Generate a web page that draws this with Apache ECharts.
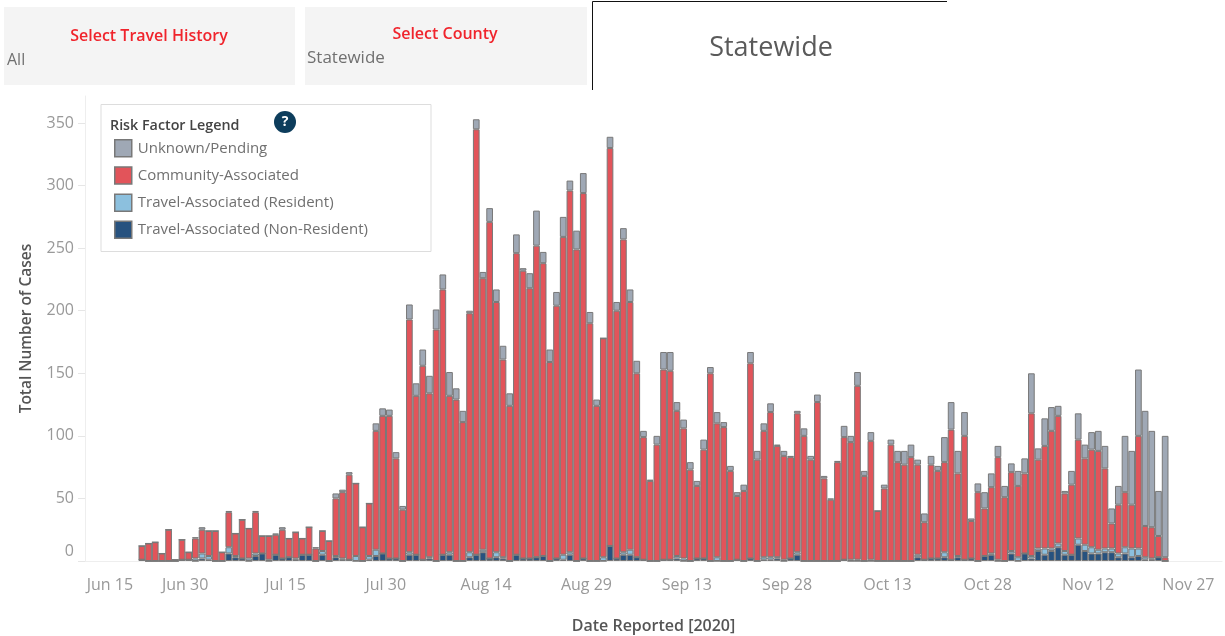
<!DOCTYPE html>
<html><head><meta charset="utf-8">
<style>html,body{margin:0;padding:0;background:#fff}#c{width:1225px;height:636px}</style>
<script src="https://cdn.jsdelivr.net/npm/echarts@6/dist/echarts.min.js"></script>
</head><body><div id="c"></div>
<script>
const leadingBlank = 8;
const nonResident = [1,0,0,0,0,0,1,1,0,2,1,0,0,6,3,2,0,4,6,0,5,2,3,1,5,5,0,5,0,3,1,1,0,0,1,4,6,2,2,
0,5,5,1,2,0,5,5,0,0,3,5,7,2,3,2,0,5,2,2,3,4,0,2,1,5,0,2,0,0,0,12,2,5,5,3,1,0,0,1,1,2,0,0,2,2,0,0,0,0,1,0,2,0,1,1,2,0,2,5,0,0,0,0,0,0,1,0,0,0,0,0,0,0,0,0,0,
3,1,2,2,3,1,3,1,2,0,4,5,0,0,6,0,6,2,8,5,8,11,5,5,13,8,6,6,7,7,3,6,3,4,1,1,3,0];
const resident = [0,0,0,0,0,0,0,0,2,4,3,0,0,5,1,0,2,2,0,1,0,0,0,1,0,0,0,3,0,1,1,0,4,0,3,5,0,0,0,
0,2,0,0,1,0,0,2,0,0,4,0,2,0,4,1,0,0,0,0,0,0,0,0,4,2,0,0,0,0,3,0,0,2,4,0,0,0,0,0,0,2,2,0,0,0,0,3,0,0,0,0,0,0,2,2,1,1,0,2,0,0,0,0,0,0,0,1,1,0,1,0,0,0,0,0,0,
2,0,0,0,4,0,1,0,0,0,0,1,1,0,2,3,0,2,2,5,2,3,3,0,5,5,5,3,3,3,3,5,7,6,2,1,0,0];
const community = [11,14,15,6,25,1,16,6,16,19,20,24,7,28,18,31,24,33,14,19,16,23,15,21,13,22,10,16,16,46,53,68,58,27,42,95,110,114,80,
41,186,127,155,131,185,212,125,129,111,191,340,217,269,200,158,124,241,230,216,249,234,159,202,254,289,249,292,190,124,175,318,198,250,198,147,98,64,93,152,151,116,104,73,58,87,150,107,107,72,51,56,156,81,101,116,89,83,81,111,100,81,127,66,49,79,98,94,139,68,95,40,58,93,79,77,83,
72,30,75,70,72,104,66,99,30,55,38,53,82,51,63,57,64,114,71,82,94,102,46,56,79,69,78,79,64,20,39,44,35,90,25,25,17,3];
const unknown = [0,0,0,0,0,0,0,0,1,2,0,0,0,1,0,0,0,1,0,0,1,2,0,0,0,0,1,0,0,4,2,2,0,0,0,6,6,5,5,
3,12,10,13,14,16,12,19,9,9,2,8,5,11,10,11,10,15,2,12,28,9,10,11,16,8,15,16,9,5,0,9,7,9,10,10,5,1,7,14,15,7,7,6,4,8,5,9,4,4,3,5,9,7,6,7,1,4,1,2,6,3,6,2,1,1,9,5,11,4,7,0,3,4,9,11,10,
4,7,7,4,20,22,18,19,2,7,13,11,9,9,7,12,12,32,9,22,19,8,2,11,21,11,14,16,18,12,15,45,43,53,92,77,36,97];
const monthNames = ['Jun','Jul','Aug','Sep','Oct','Nov','Dec'];
const monthDays = [30,31,31,30,31,30,31];
const yTicks = [0,50,100,150,200,250,300,350];
const seriesNames = ['Unknown/Pending','Community-Associated','Travel-Associated (Resident)','Travel-Associated (Non-Resident)'];

const categories = [];
for (let m = 0, d = 15; categories.length < 170; ) {
  categories.push(monthNames[m] + ' ' + d);
  d++; if (d > monthDays[m]) { d = 1; m++; }
}
const blankOut = a => categories.map((c,i)=> (i<leadingBlank || i>=leadingBlank+a.length) ? null : a[i-leadingBlank]);
const FONT = '"Open Sans", sans-serif';
const mk = (name,data,color) => ({
  name, type:'bar', stack:'t', data:blankOut(data), barWidth:'100%', animation:false,
  itemStyle:{color, borderColor:'#787878', borderWidth:1}
});
const every15 = i => i % 15 === 0;
const chart = echarts.init(document.getElementById('c'), null, {renderer:'canvas'});
chart.setOption({
  animation:false, backgroundColor:'#fff',
  grid:{left:85, top:96, width:1137, height:465, containLabel:false, outerBoundsMode:'none'},
  legend:{
    orient:'vertical', left:109, top:134, itemWidth:17, itemHeight:17, itemGap:8.7, padding:5,
    icon:'rect', selectedMode:false,
    data:seriesNames,
    itemStyle:{borderColor:'#787878', borderWidth:1.5},
    textStyle:{fontFamily:FONT, fontSize:15, color:'#707070', padding:[0,0,0,1]}
  },
  xAxis:{
    type:'category', data:categories,
    axisLine:{lineStyle:{color:'#eeeeee'}},
    axisTick:{interval:(i)=>every15(i), length:7, lineStyle:{color:'#e6e6e6'}, alignWithLabel:false},
    axisLabel:{interval:(i)=>every15(i), hideOverlap:false, margin:16, color:'#999', fontFamily:FONT, fontSize:16,
      formatter:(v,i)=> i===0 ? '{f|'+v+'}' : '{a|'+v+'}',
      rich:{a:{padding:[0,7,0,0], color:'#999', fontFamily:FONT, fontSize:16},
            f:{padding:[0,0,0,43], color:'#999', fontFamily:FONT, fontSize:16}}},
    name:'Date Reported [2020]', nameLocation:'middle', nameGap:57,
    nameTextStyle:{fontFamily:FONT, fontSize:16, fontWeight:600, color:'#555'}
  },
  yAxis:{
    type:'value', min:0, max:371.6, interval:50,
    splitLine:{show:false},
    axisLine:{show:true, lineStyle:{color:'#eeeeee'}},
    axisTick:{show:true, length:7, lineStyle:{color:'#e6e6e6'}, customValues:yTicks},
    axisLabel:{margin:11, color:'#999', fontFamily:FONT, fontSize:16, customValues:yTicks,
      formatter:v=> v===0 ? '{z|0}' : '{n|'+v+'}',
      rich:{z:{padding:[0,0,20,0], color:'#999', fontFamily:FONT, fontSize:16},
            n:{color:'#999', fontFamily:FONT, fontSize:16}}},
    name:'Total Number of Cases', nameLocation:'middle', nameGap:50, nameRotate:90,
    nameTextStyle:{fontFamily:FONT, fontSize:15.5, fontWeight:600, color:'#555'}
  },
  series:[
    mk(seriesNames[3],nonResident,'#27527f'),
    mk(seriesNames[2],resident,'#8cc0de'),
    mk(seriesNames[1],community,'#e2545a'),
    mk(seriesNames[0],unknown,'#9fa8b5')
  ],
  graphic:[
    {type:'rect',silent:true,z:-1,shape:{x:4,y:7,width:291,height:78},style:{fill:'#f4f4f4'}},
    {type:'rect',silent:true,z:-1,shape:{x:305,y:7,width:282,height:78},style:{fill:'#f4f4f4'}},
    {type:'text',x:149,y:36,style:{text:'Select Travel History',fill:'#f0242c',font:'600 16px '+FONT,textAlign:'center',textVerticalAlign:'middle'}},
    {type:'text',x:445,y:34,style:{text:'Select County',fill:'#f0242c',font:'600 16px '+FONT,textAlign:'center',textVerticalAlign:'middle'}},
    {type:'text',x:7,y:60,style:{text:'All',fill:'#707070',font:'16px '+FONT,textVerticalAlign:'middle'}},
    {type:'text',x:307,y:58,style:{text:'Statewide',fill:'#707070',font:'17px '+FONT,textVerticalAlign:'middle'}},
    {type:'polyline',silent:true,shape:{points:[[592.5,90],[592.5,1.5],[947,1.5]]},style:{stroke:'#111',lineWidth:1,fill:null}},
    {type:'text',x:771,y:48,style:{text:'Statewide',fill:'#5a5a5a',font:'27px '+FONT,textAlign:'center',textVerticalAlign:'middle'}},
    {type:'rect',silent:true,z:-1,shape:{x:101,y:104.5,width:330,height:147},style:{fill:'#fff',stroke:'#dddddd',lineWidth:1}},
    {type:'text',x:110,y:126,style:{text:'Risk Factor Legend',fill:'#444',font:'600 14.3px '+FONT,textVerticalAlign:'middle'}},
    {type:'circle',silent:true,shape:{cx:285,cy:122,r:11},style:{fill:'#0d3d5c'}},
    {type:'text',x:285,y:122,style:{text:'?',fill:'#fff',font:'bold 14px '+FONT,textAlign:'center',textVerticalAlign:'middle'}}
  ]
});
</script></body></html>
